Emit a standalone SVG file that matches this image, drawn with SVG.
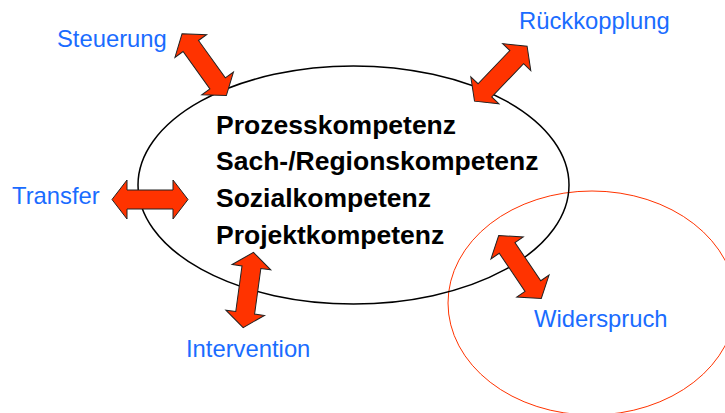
<svg xmlns="http://www.w3.org/2000/svg" xmlns:xlink="http://www.w3.org/1999/xlink" width="725" height="413" viewBox="0 0 725 413">
<style>
.lbl{font-family:"Liberation Sans",Arial,sans-serif;font-size:23.8px;fill:#1a6cff}
.core{font-family:"Liberation Sans",Arial,sans-serif;font-size:26.5px;font-weight:bold;fill:#000}
.arr{fill:#ff3300;stroke:#222;stroke-width:1;stroke-linejoin:miter}
</style>
<defs>
<path id="dbl" d="M -38 0 L -23 -19.5 L -23 -9.5 L 23 -9.5 L 23 -19.5 L 38 0 L 23 19.5 L 23 9.5 L -23 9.5 L -23 19.5 Z"/>
</defs>
<rect width="725" height="413" fill="#fff"/>
<g id="widerspruch-zone">
<ellipse cx="592" cy="303" rx="144" ry="112" fill="none" stroke="#ff3300" stroke-width="1"/>
</g>
<g id="kompetenzen">
<ellipse cx="353.5" cy="185" rx="215.5" ry="119" fill="none" stroke="#000" stroke-width="1.5"/>
<text class="core" x="216" y="134">Prozesskompetenz</text>
<text class="core" x="216" y="170">Sach-/Regionskompetenz</text>
<text class="core" x="216" y="207">Sozialkompetenz</text>
<text class="core" x="216" y="244">Projektkompetenz</text>
</g>
<g id="connectors">
<use xlink:href="#dbl" class="arr" transform="translate(204.2,64.7) rotate(54.3)"/>
<use xlink:href="#dbl" class="arr" transform="translate(500.8,73.7) rotate(133.8)"/>
<use xlink:href="#dbl" class="arr" transform="translate(150,199.5)"/>
<use xlink:href="#dbl" class="arr" transform="translate(248.3,290) rotate(97.8)"/>
<use xlink:href="#dbl" class="arr" transform="translate(520,267) rotate(55.9)"/>
</g>
<g id="steuerung"><text class="lbl" x="57" y="47">Steuerung</text></g>
<g id="rueckkopplung"><text class="lbl" x="519" y="29">Rückkopplung</text></g>
<g id="transfer"><text class="lbl" x="12" y="204">Transfer</text></g>
<g id="intervention"><text class="lbl" x="186" y="357">Intervention</text></g>
<g id="widerspruch"><text class="lbl" x="534" y="327">Widerspruch</text></g>
</svg>
